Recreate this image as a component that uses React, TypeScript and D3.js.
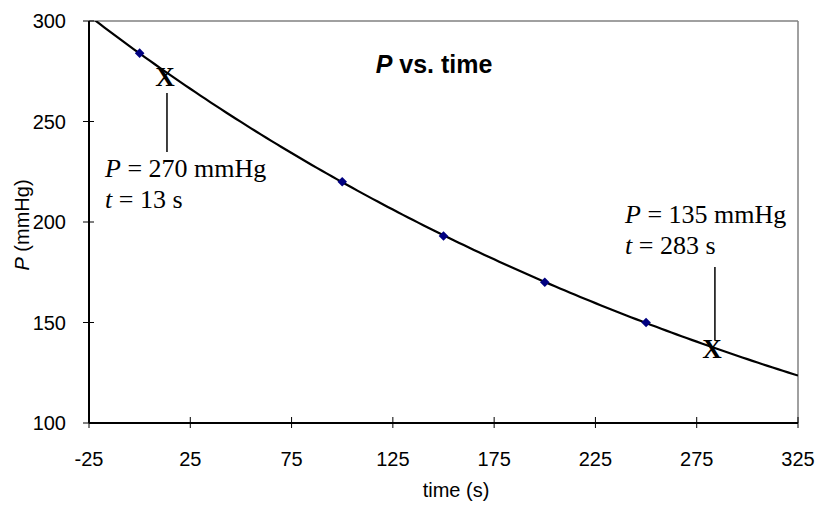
import React from 'react';
import * as d3 from 'd3';

// measured points
const times = [0, 100, 150, 200, 250];
const pressures = [284, 220, 193, 170, 150];

const xTicks = [-25, 25, 75, 125, 175, 225, 275, 325];
const yTicks = [100, 150, 200, 250, 300];

// the two marked readings
const notes = [
    { t: 13, p: 270, lines: ['P', ' = 270 mmHg', 't', ' = 13 s'] },
    { t: 283, p: 135, lines: ['P', ' = 135 mmHg', 't', ' = 283 s'] },
];

const W = 817;
const H = 506;
const margin = { top: 21, right: 19, bottom: 83, left: 89 };

// exponential trendline, least squares on ln(P)
const fitExp = (xs: number[], ys: number[]) => {
    const ly = ys.map(v => Math.log(v));
    const mx = d3.mean(xs) as number;
    const my = d3.mean(ly) as number;
    const sxy = d3.sum(xs, (v, i) => (v - mx) * (ly[i] - my));
    const sxx = d3.sum(xs, v => (v - mx) * (v - mx));
    const k = sxy / sxx;
    const a = Math.exp(my - k * mx);
    return (t: number) => a * Math.exp(k * t);
};

const App = () => {
    const x = d3.scaleLinear().domain([-25, 325]).range([margin.left, W - margin.right]);
    const y = d3.scaleLinear().domain([100, 300]).range([H - margin.bottom, margin.top]);
    const fit = fitExp(times, pressures);

    const curveTs = d3.range(-25, 325.5, 2.5);
    const line = d3.line<number>()
        .x(t => x(t))
        .y(t => y(fit(t)));

    // square turned 45deg, like the excel marker
    const diamond = d3.symbol().type(d3.symbolSquare).size(46)();

    const x0 = margin.left;
    const x1 = W - margin.right;
    const y0 = H - margin.bottom;
    const y1 = margin.top;

    return (
        <svg width={W} height={H} style={{ position: 'absolute', left: 0, top: 0, background: '#fff' }}>
            <defs>
                <clipPath id="plot">
                    <rect x={x0} y={y1} width={x1 - x0} height={y0 - y1} />
                </clipPath>
            </defs>

            {/* frame */}
            <line x1={x0} x2={x1} y1={y1} y2={y1} stroke="#808080" strokeWidth={1.5} />
            <line x1={x1} x2={x1} y1={y1} y2={y0} stroke="#808080" strokeWidth={1.5} />
            <line x1={x0} x2={x1} y1={y0} y2={y0} stroke="#000" strokeWidth={2} />
            <line x1={x0} x2={x0} y1={y1} y2={y0} stroke="#000" strokeWidth={2} />

            {yTicks.map(v => (
                <g key={'y' + v}>
                    <line x1={x0 - 6} x2={x0 + 5} y1={y(v)} y2={y(v)} stroke="#000" strokeWidth={1} />
                    <text x={66} y={y(v)} dy="0.35em" textAnchor="end"
                        style={{ font: '20px "Liberation Sans", Arial, sans-serif' }}>{v}</text>
                </g>
            ))}
            {xTicks.map(v => (
                <g key={'x' + v}>
                    <line x1={x(v)} x2={x(v)} y1={y0 - 6} y2={y0 + 5} stroke="#000" strokeWidth={1} />
                    <text x={x(v)} y={466} textAnchor="middle"
                        style={{ font: '20px "Liberation Sans", Arial, sans-serif' }}>{v}</text>
                </g>
            ))}

            <path d={line(curveTs) || ''} fill="none" stroke="#000" strokeWidth={2.2} clipPath="url(#plot)" />

            {times.map((t, i) => (
                <path key={t} d={diamond || ''}
                    transform={`translate(${x(t)},${y(pressures[i])}) rotate(45)`} fill="#000080" />
            ))}

            {/* title */}
            <text x={434} y={73} textAnchor="middle"
                style={{ font: 'bold 25px "Liberation Sans", Arial, sans-serif' }}>
                <tspan fontStyle="italic">P</tspan> vs. time
            </text>

            {/* axis titles */}
            <text x={456} y={497} textAnchor="middle"
                style={{ font: '20px "Liberation Sans", Arial, sans-serif' }}>time (s)</text>
            <text transform="translate(29,225) rotate(-90)" textAnchor="middle"
                style={{ font: '20px "Liberation Sans", Arial, sans-serif' }}>
                <tspan fontStyle="italic">P</tspan> (mmHg)
            </text>

            {/* X marks, leader lines and labels */}
            {notes.map(n => (
                <text key={'m' + n.t} x={x(n.t) - 1} y={y(n.p) + 5} textAnchor="middle"
                    style={{ font: 'bold 27px "Liberation Serif", "Times New Roman", serif' }}>X</text>
            ))}
            <line x1={x(notes[0].t) + 1} x2={x(notes[0].t) + 1} y1={93} y2={152} stroke="#000" strokeWidth={1.5} />
            <line x1={x(notes[1].t) + 2} x2={x(notes[1].t) + 2} y1={267} y2={340} stroke="#000" strokeWidth={1.5} />

            <g style={{ font: '26px "Liberation Serif", "Times New Roman", serif' }}>
                <text x={105} y={177}>
                    <tspan fontStyle="italic">{notes[0].lines[0]}</tspan>{notes[0].lines[1]}
                </text>
                <text x={105} y={208}>
                    <tspan fontStyle="italic">{notes[0].lines[2]}</tspan>{notes[0].lines[3]}
                </text>
                <text x={625} y={223}>
                    <tspan fontStyle="italic">{notes[1].lines[0]}</tspan>{notes[1].lines[1]}
                </text>
                <text x={625} y={254}>
                    <tspan fontStyle="italic">{notes[1].lines[2]}</tspan>{notes[1].lines[3]}
                </text>
            </g>
        </svg>
    );
};

export default App;
